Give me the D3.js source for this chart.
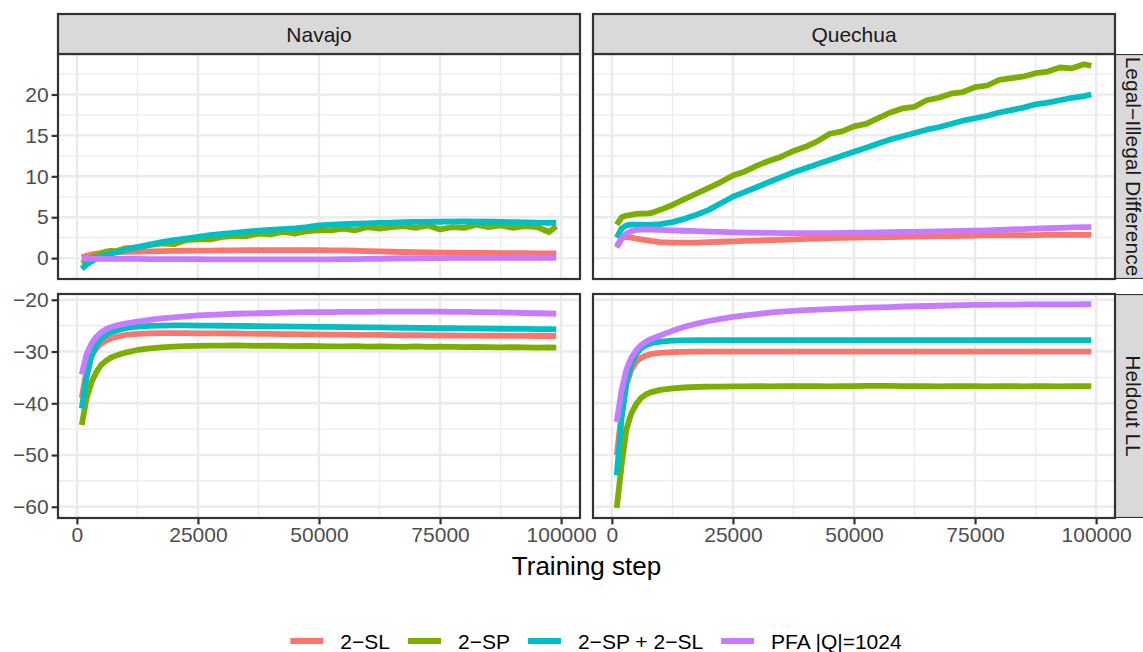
<!DOCTYPE html>
<html>
<head>
<meta charset="utf-8">
<script src="https://cdn.jsdelivr.net/npm/d3@7"></script>
<style>
  body { margin: 0; background: #fff; }
  svg { font-family: "Liberation Sans", Arial, sans-serif; }
</style>
</head>
<body>
<div class="chart"></div>
<script>
var width = 1143,
  height = 652;

// --- data ---
var languages = ['Navajo', 'Quechua'];
var metrics = ['Legal\u2212Illegal Difference', 'Heldout LL'];
var methods = ['2\u2212SL', '2\u2212SP', '2\u2212SP + 2\u2212SL', 'PFA |Q|=1024'];
var colors = ['#F8766D', '#7CAE00', '#00BFC4', '#C77CFF'];
var xTicks = [0, 25000, 50000, 75000, 100000];
var yTicksDiff = [0, 5, 10, 15, 20];
var yTicksLL = [-60, -50, -40, -30, -20];

var steps = [1000, 2000, 3000, 4000, 5000, 6000, 7000, 8000, 10000, 12500,
  15000, 17500, 20000, 22500, 25000, 27500, 30000, 32500, 35000, 37500,
  40000, 42500, 45000, 47500, 50000, 52500, 55000, 57500, 60000, 62500,
  65000, 67500, 70000, 72500, 75000, 77500, 80000, 82500, 85000, 87500,
  90000, 92500, 95000, 97500, 99000];

// Legal-Illegal difference, Navajo
var navajoDiffSL = [0.1, 0.3, 0.45, 0.55, 0.62, 0.67, 0.7, 0.72, 0.76, 0.8,
  0.83, 0.86, 0.88, 0.9, 0.92, 0.93, 0.95, 0.96, 0.97, 0.98,
  0.98, 0.99, 0.99, 0.98, 0.98, 0.96, 0.94, 0.9, 0.86, 0.82,
  0.78, 0.75, 0.72, 0.7, 0.68, 0.66, 0.65, 0.64, 0.63, 0.62,
  0.61, 0.6, 0.59, 0.58, 0.57];
var navajoDiffSP = [-0.6, -0.3, 0.1, 0.3, 0.6, 0.8, 0.9, 0.85, 1.2, 1.3,
  1.6, 1.8, 1.7, 2.2, 2.3, 2.3, 2.6, 2.7, 2.7, 3.0,
  2.9, 3.2, 3.0, 3.3, 3.4, 3.4, 3.6, 3.4, 3.8, 3.6,
  3.8, 3.9, 3.7, 4.0, 3.5, 3.8, 3.7, 4.1, 3.8, 4.0,
  3.7, 3.9, 3.8, 3.2, 3.9];
var navajoDiffBoth = [-1.3, -0.8, -0.4, -0.05, 0.2, 0.4, 0.55, 0.7, 1.0, 1.35,
  1.65, 1.95, 2.2, 2.4, 2.6, 2.8, 2.95, 3.1, 3.25, 3.35,
  3.45, 3.55, 3.65, 3.8, 4.0, 4.1, 4.15, 4.2, 4.25, 4.3,
  4.35, 4.4, 4.42, 4.43, 4.45, 4.47, 4.5, 4.45, 4.45, 4.42,
  4.4, 4.38, 4.35, 4.3, 4.3];
var navajoDiffPFA = [-0.05, -0.07, -0.08, -0.09, -0.1, -0.1, -0.1, -0.1, -0.1, -0.1,
  -0.11, -0.12, -0.12, -0.13, -0.13, -0.14, -0.14, -0.15, -0.15, -0.15,
  -0.15, -0.15, -0.15, -0.15, -0.15, -0.14, -0.13, -0.12, -0.1, -0.08,
  -0.06, -0.04, -0.02, 0, 0.01, 0.02, 0.03, 0.03, 0.04, 0.04,
  0.05, 0.05, 0.05, 0.05, 0.05];

// Legal-Illegal difference, Quechua
var quechuaDiffSL = [1.5, 2.4, 2.6, 2.5, 2.4, 2.3, 2.2, 2.1, 1.95, 1.9,
  1.9, 1.9, 1.95, 2.0, 2.05, 2.1, 2.15, 2.2, 2.25, 2.3,
  2.35, 2.4, 2.45, 2.48, 2.5, 2.53, 2.55, 2.58, 2.6, 2.63,
  2.65, 2.68, 2.7, 2.72, 2.75, 2.77, 2.8, 2.8, 2.8, 2.82,
  2.85, 2.85, 2.85, 2.85, 2.85];
var quechuaDiffSP = [4.1, 5.0, 5.2, 5.3, 5.4, 5.45, 5.45, 5.5, 5.9, 6.5,
  7.2, 7.9, 8.6, 9.3, 10.1, 10.6, 11.3, 11.9, 12.4, 13.1,
  13.6, 14.3, 15.2, 15.5, 16.1, 16.4, 17.1, 17.8, 18.3, 18.5,
  19.3, 19.6, 20.1, 20.3, 20.9, 21.1, 21.8, 22.0, 22.2, 22.6,
  22.8, 23.3, 23.2, 23.7, 23.5];
var quechuaDiffBoth = [2.5, 3.6, 4.0, 4.1, 4.1, 4.1, 4.05, 4.05, 4.15, 4.4,
  4.8, 5.3, 5.9, 6.7, 7.5, 8.1, 8.7, 9.3, 9.9, 10.5,
  11.0, 11.5, 12.0, 12.5, 13.0, 13.5, 14.0, 14.5, 14.9, 15.3,
  15.7, 16.0, 16.4, 16.8, 17.1, 17.4, 17.8, 18.1, 18.4, 18.8,
  19.0, 19.3, 19.6, 19.8, 20.0];
var quechuaDiffPFA = [1.3, 2.4, 3.0, 3.3, 3.45, 3.5, 3.5, 3.5, 3.45, 3.4,
  3.35, 3.3, 3.25, 3.2, 3.15, 3.12, 3.1, 3.08, 3.05, 3.05,
  3.05, 3.05, 3.05, 3.07, 3.1, 3.12, 3.15, 3.17, 3.2, 3.22,
  3.25, 3.27, 3.3, 3.32, 3.35, 3.4, 3.45, 3.5, 3.55, 3.6,
  3.65, 3.7, 3.75, 3.78, 3.8];

// Heldout LL, Navajo
var navajoLLSL = [-39.0, -33.5, -30.8, -29.4, -28.5, -27.9, -27.5, -27.2, -26.8, -26.6,
  -26.5, -26.45, -26.45, -26.45, -26.5, -26.5, -26.5, -26.52, -26.55, -26.6,
  -26.6, -26.65, -26.65, -26.7, -26.7, -26.72, -26.75, -26.77, -26.8, -26.8,
  -26.82, -26.85, -26.85, -26.87, -26.9, -26.9, -26.92, -26.93, -26.95, -26.95,
  -26.97, -26.98, -27.0, -27.0, -27.0];
var navajoLLSP = [-44.2, -39.0, -36.0, -34.0, -32.6, -31.8, -31.2, -30.8, -30.2, -29.7,
  -29.4, -29.2, -29.05, -28.95, -28.9, -28.85, -28.85, -28.8, -28.85, -28.9,
  -28.85, -28.9, -28.95, -28.9, -28.95, -29.0, -29.0, -28.95, -29.05, -29.0,
  -29.05, -29.1, -29.0, -29.1, -29.05, -29.1, -29.15, -29.1, -29.15, -29.2,
  -29.15, -29.2, -29.25, -29.2, -29.25];
var navajoLLBoth = [-41.0, -35.0, -31.0, -28.8, -27.6, -26.8, -26.3, -26.0, -25.5, -25.2,
  -25.05, -25.0, -24.95, -24.95, -25.0, -25.0, -25.02, -25.05, -25.07, -25.1,
  -25.12, -25.15, -25.17, -25.2, -25.22, -25.25, -25.27, -25.3, -25.32, -25.35,
  -25.37, -25.4, -25.42, -25.45, -25.47, -25.5, -25.52, -25.55, -25.57, -25.6,
  -25.62, -25.64, -25.66, -25.68, -25.7];
var navajoLLPFA = [-34.4, -30.5, -28.5, -27.2, -26.3, -25.7, -25.3, -25.0, -24.6, -24.2,
  -23.9, -23.6, -23.4, -23.2, -23.0, -22.9, -22.8, -22.7, -22.65, -22.6,
  -22.55, -22.5, -22.45, -22.4, -22.4, -22.37, -22.35, -22.33, -22.32, -22.3,
  -22.3, -22.3, -22.3, -22.3, -22.3, -22.32, -22.35, -22.37, -22.4, -22.45,
  -22.5, -22.55, -22.6, -22.65, -22.7];

// Heldout LL, Quechua
var quechuaLLSL = [-50.0, -42.0, -36.5, -33.5, -32.0, -31.2, -30.8, -30.5, -30.25, -30.1,
  -30.05, -30.0, -30.0, -30.0, -30.0, -30.0, -30.0, -30.0, -30.0, -30.0,
  -30.0, -30.0, -30.0, -30.0, -30.0, -30.0, -30.0, -30.0, -30.0, -30.0,
  -30.0, -30.0, -30.0, -30.0, -30.0, -30.0, -30.0, -30.0, -30.0, -30.0,
  -30.0, -30.0, -30.0, -30.0, -30.0];
var quechuaLLSP = [-60.2, -52.0, -45.0, -42.0, -40.2, -39.0, -38.3, -37.9, -37.4, -37.1,
  -36.95, -36.85, -36.8, -36.8, -36.75, -36.75, -36.7, -36.72, -36.7, -36.7,
  -36.68, -36.7, -36.72, -36.68, -36.7, -36.65, -36.62, -36.65, -36.7, -36.68,
  -36.7, -36.72, -36.7, -36.68, -36.7, -36.72, -36.7, -36.7, -36.72, -36.7,
  -36.7, -36.72, -36.7, -36.7, -36.7];
var quechuaLLBoth = [-53.9, -43.0, -36.0, -32.5, -30.5, -29.4, -28.8, -28.4, -28.1, -27.9,
  -27.85, -27.8, -27.8, -27.8, -27.8, -27.8, -27.8, -27.8, -27.8, -27.8,
  -27.8, -27.8, -27.8, -27.8, -27.8, -27.8, -27.8, -27.8, -27.8, -27.8,
  -27.8, -27.8, -27.8, -27.8, -27.8, -27.8, -27.8, -27.8, -27.8, -27.8,
  -27.8, -27.8, -27.8, -27.8, -27.8];
var quechuaLLPFA = [-43.6, -37.5, -33.5, -31.2, -29.8, -28.8, -28.1, -27.6, -26.9, -26.0,
  -25.2, -24.6, -24.1, -23.7, -23.3, -23.0, -22.75, -22.5, -22.3, -22.15,
  -22.0, -21.9, -21.8, -21.7, -21.6, -21.5, -21.45, -21.4, -21.3, -21.25,
  -21.2, -21.15, -21.1, -21.05, -21.0, -21.0, -20.95, -20.95, -20.9, -20.9,
  -20.9, -20.88, -20.87, -20.86, -20.85];

// [metric][language][method]
var panelSeries = [
  [[navajoDiffSL, navajoDiffSP, navajoDiffBoth, navajoDiffPFA],
   [quechuaDiffSL, quechuaDiffSP, quechuaDiffBoth, quechuaDiffPFA]],
  [[navajoLLSL, navajoLLSP, navajoLLBoth, navajoLLPFA],
   [quechuaLLSL, quechuaLLSP, quechuaLLBoth, quechuaLLPFA]]
];
var yTicks = [yTicksDiff, yTicksLL];

// --- layout ---
var colX = [58, 593], colW = 522;
var rowY = [54, 294], rowH = [225, 224];
var stripTop = 14, stripH = 40, stripW = 40;
var tickLen = 6.4;
var fontSize = '21px';

var svg = d3.select('.chart')
  .append('svg')
  .attr('width', width)
  .attr('height', height);

//ggplot style 5% expansion
var expand = function (ext) {
  var pad = (ext[1] - ext[0]) * 0.05;
  return [ext[0] - pad, ext[1] + pad];
};

var minorBreaks = function (ticks, domain) {
  var step = ticks[1] - ticks[0];
  var out = [ticks[0] - step / 2];
  ticks.forEach(function (t) { out.push(t + step / 2); });
  return out.filter(function (v) { return v >= domain[0] && v <= domain[1]; });
};

var xScales = colX.map(function (x0) {
  return d3.scaleLinear()
    .domain(expand(d3.extent(steps)))
    .range([x0, x0 + colW]);
});

var yScales = rowY.map(function (y0, r) {
  var all = d3.merge(d3.merge(panelSeries[r]));
  return d3.scaleLinear()
    .domain(expand(d3.extent(all)))
    .range([y0 + rowH[r], y0]);
});

var defs = svg.append('defs');

metrics.forEach(function (metric, r) {
  languages.forEach(function (lang, c) {
    var x = xScales[c], y = yScales[r];
    var id = 'clip-' + r + '-' + c;
    defs.append('clipPath').attr('id', id)
      .append('rect')
      .attr('x', colX[c]).attr('y', rowY[r])
      .attr('width', colW).attr('height', rowH[r]);

    var panel = svg.append('g').attr('class', 'panel');
    panel.append('rect')
      .attr('x', colX[c]).attr('y', rowY[r])
      .attr('width', colW).attr('height', rowH[r])
      .attr('fill', '#fff');

    var grid = panel.append('g').attr('clip-path', 'url(#' + id + ')');
    //minor grid
    grid.selectAll('line.mx')
      .data(minorBreaks(xTicks, x.domain()))
      .enter().append('line')
      .attr('x1', x).attr('x2', x)
      .attr('y1', rowY[r]).attr('y2', rowY[r] + rowH[r])
      .attr('stroke', '#ebebeb').attr('stroke-width', 1.2);
    grid.selectAll('line.my')
      .data(minorBreaks(yTicks[r], y.domain()))
      .enter().append('line')
      .attr('y1', y).attr('y2', y)
      .attr('x1', colX[c]).attr('x2', colX[c] + colW)
      .attr('stroke', '#ebebeb').attr('stroke-width', 1.2);
    //major grid
    grid.selectAll('line.Mx')
      .data(xTicks)
      .enter().append('line')
      .attr('x1', x).attr('x2', x)
      .attr('y1', rowY[r]).attr('y2', rowY[r] + rowH[r])
      .attr('stroke', '#ebebeb').attr('stroke-width', 2.4);
    grid.selectAll('line.My')
      .data(yTicks[r])
      .enter().append('line')
      .attr('y1', y).attr('y2', y)
      .attr('x1', colX[c]).attr('x2', colX[c] + colW)
      .attr('stroke', '#ebebeb').attr('stroke-width', 2.4);

    var line = d3.line()
      .x(function (d, i) { return x(steps[i]); })
      .y(function (d) { return y(d); });

    grid.selectAll('path.series')
      .data(panelSeries[r][c])
      .enter().append('path')
      .attr('class', 'series')
      .attr('d', line)
      .attr('fill', 'none')
      .attr('stroke', function (d, i) { return colors[i]; })
      .attr('stroke-width', 5.8)
      .attr('stroke-linejoin', 'round');

    panel.append('rect')
      .attr('x', colX[c]).attr('y', rowY[r])
      .attr('width', colW).attr('height', rowH[r])
      .attr('fill', 'none')
      .attr('stroke', '#333333').attr('stroke-width', 2.2);

    //y axis on left column only
    if (c === 0) {
      var yAxis = d3.axisLeft(y)
        .tickValues(yTicks[r])
        .tickSize(tickLen)
        .tickPadding(3)
        .tickFormat(function (d) { return d < 0 ? '\u2212' + Math.abs(d) : d; });
      var gy = svg.append('g')
        .attr('class', 'axis y')
        .attr('transform', 'translate(' + colX[c] + ',0)')
        .call(yAxis);
      gy.select('.domain').remove();
    }
    //x axis on bottom row only
    if (r === 1) {
      var xAxis = d3.axisBottom(x)
        .tickValues(xTicks)
        .tickSize(tickLen)
        .tickPadding(3)
        .tickFormat(d3.format('d'));
      var gx = svg.append('g')
        .attr('class', 'axis x')
        .attr('transform', 'translate(0,' + (rowY[r] + rowH[r]) + ')')
        .call(xAxis);
      gx.select('.domain').remove();
    }
  });
});

svg.selectAll('.axis .tick line')
  .attr('stroke', '#333333').attr('stroke-width', 2.2);
svg.selectAll('.axis .tick text')
  .attr('fill', '#4d4d4d')
  .style('font-size', fontSize)
  .style('font-family', '"Liberation Sans", Arial, sans-serif');

//top strips
languages.forEach(function (lang, c) {
  svg.append('rect')
    .attr('x', colX[c]).attr('y', stripTop)
    .attr('width', colW).attr('height', stripH)
    .attr('fill', '#d9d9d9')
    .attr('stroke', '#333333').attr('stroke-width', 2.2);
  svg.append('text')
    .attr('x', colX[c] + colW / 2)
    .attr('y', stripTop + stripH / 2)
    .attr('dy', '0.36em')
    .attr('text-anchor', 'middle')
    .attr('fill', '#1a1a1a')
    .style('font-size', fontSize)
    .text(lang);
});

//right strips
var stripX = colX[1] + colW;
metrics.forEach(function (metric, r) {
  var id = 'strip-clip-' + r;
  defs.append('clipPath').attr('id', id)
    .append('rect')
    .attr('x', stripX).attr('y', rowY[r])
    .attr('width', stripW).attr('height', rowH[r]);
  var g = svg.append('g').attr('clip-path', 'url(#' + id + ')');
  g.append('rect')
    .attr('x', stripX).attr('y', rowY[r])
    .attr('width', stripW).attr('height', rowH[r])
    .attr('fill', '#d9d9d9')
    .attr('stroke', '#333333').attr('stroke-width', 2.2);
  var cx = stripX + stripW / 2 - 1, cy = rowY[r] + rowH[r] / 2;
  g.append('text')
    .attr('transform', 'translate(' + cx + ',' + cy + ') rotate(90)')
    .attr('dy', '0.36em')
    .attr('text-anchor', 'middle')
    .attr('fill', '#1a1a1a')
    .style('font-size', fontSize)
    .text(metric);
});

//axis title
svg.append('text')
  .attr('x', (colX[0] + colX[1] + colW) / 2)
  .attr('y', 575)
  .attr('text-anchor', 'middle')
  .attr('fill', '#000')
  .style('font-size', '26px')
  .text('Training step');

//legend
var legend = svg.append('g').attr('class', 'legend');
var keyW = 41, keyGap = 13, itemGap = 14, legendY = 641;
var items = legend.selectAll('g.item')
  .data(methods)
  .enter().append('g')
  .attr('class', 'item');
items.append('line')
  .attr('x1', 4).attr('x2', keyW - 4)
  .attr('y1', 0).attr('y2', 0)
  .attr('stroke', function (d, i) { return colors[i]; })
  .attr('stroke-width', 6);
items.append('text')
  .attr('x', keyW + keyGap)
  .attr('dy', '0.36em')
  .attr('fill', '#000')
  .style('font-size', fontSize)
  .text(function (d) { return d; });

var offsets = [], pos = 0;
items.each(function () {
  offsets.push(pos);
  var w = d3.select(this).select('text').node().getComputedTextLength();
  pos += keyW + keyGap + w + itemGap;
});
var totalW = pos - itemGap;
var legendX = 594 - totalW / 2;
items.attr('transform', function (d, i) {
  return 'translate(' + (legendX + offsets[i]) + ',' + legendY + ')';
});
</script>
</body>
</html>
